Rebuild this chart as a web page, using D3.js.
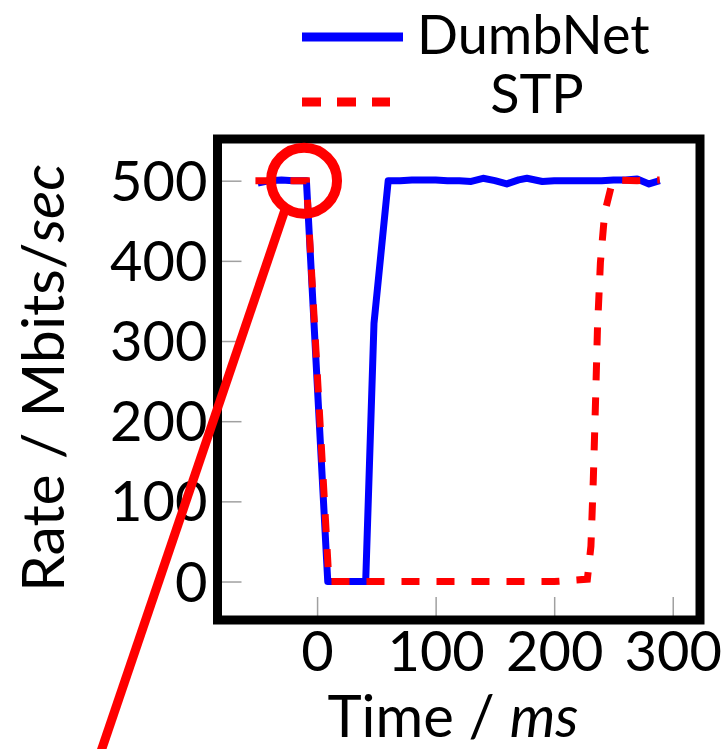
<!DOCTYPE html>
<html>
<head>
<meta charset="utf-8">
<script src="https://cdn.jsdelivr.net/npm/d3@7"></script>
<style>
  body { margin: 0; background: #fff; }
  text { font-family: Lato, "Open Sans", sans-serif; fill: #000; }
</style>
</head>
<body>
<svg width="724" height="749"></svg>
<script>
// time in ms, rate in Mbits/sec
const dumbTime = [-50, -40, -30, -20, -9, 9, 20, 30, 41, 48, 60, 70, 80, 90, 100, 110, 120, 130, 140, 150, 160, 170, 177, 190, 200, 210, 220, 230, 240, 250, 260, 270, 280, 289];
const dumbRate = [497, 500, 501, 500, 500, 0, 0, 0, 0, 322, 500, 500, 501, 501, 501, 500, 500, 499, 503, 500, 496, 501, 503, 499, 500, 500, 500, 500, 500, 501, 501, 502, 496, 500];

const stpTime = [-52, -30, -9, 10, 50, 100, 150, 200, 228, 231, 233, 235, 236.5, 239, 242.6, 248.3, 251, 270, 289];
const stpRate = [500, 500, 500, 0, 0, 0, 0, 0, 3, 44, 127, 231, 315, 398, 460, 494, 501, 500, 501];

const xTicks = [0, 100, 200, 300];
const yTicks = [0, 100, 200, 300, 400, 500];

const seriesNames = ["DumbNet", "STP"];
const seriesColors = ["#0000ff", "#ff0000"];

// red circle + pointer line (data units)
const circleAt = [-11, 500];
const pointerFrom = [-27, 464];
const pointerTo = [-183, -215];

const svg = d3.select("svg");

const x = d3.scaleLinear().domain([-84, 323]).range([217.5, 700]);
const y = d3.scaleLinear().domain([-48, 552]).range([620, 139]);

// axes (ticks point inward)
const yAxis = svg.append("g")
    .attr("transform", `translate(${x.range()[0]},0)`)
    .call(d3.axisLeft(y).tickValues(yTicks).tickSizeInner(-24).tickSizeOuter(0).tickPadding(10));
yAxis.select(".domain").remove();
yAxis.selectAll("line").attr("stroke", "#a0a0a0").attr("stroke-width", 1.5);
yAxis.selectAll("text").attr("font-size", 56).attr("dy", "0.35em");

const xAxis = svg.append("g")
    .attr("transform", `translate(0,${y.range()[0]})`)
    .call(d3.axisBottom(x).tickValues(xTicks).tickSizeInner(-23).tickSizeOuter(0).tickPadding(11));
xAxis.select(".domain").remove();
xAxis.selectAll("line").attr("stroke", "#a0a0a0").attr("stroke-width", 1.5);
xAxis.selectAll("text").attr("font-size", 56);

svg.selectAll("text").style("font-family", "Lato, sans-serif");

// lines
const line = d3.line().x(d => x(d[0])).y(d => y(d[1]));
const dumb = dumbTime.map((t, i) => [t, dumbRate[i]]);
const stp = stpTime.map((t, i) => [t, stpRate[i]]);

svg.append("path").datum(dumb)
    .attr("d", line)
    .attr("fill", "none")
    .attr("stroke", seriesColors[0])
    .attr("stroke-width", 7)
    .attr("stroke-linejoin", "round");

svg.append("path").datum(stp)
    .attr("d", line)
    .attr("fill", "none")
    .attr("stroke", seriesColors[1])
    .attr("stroke-width", 7)
    .attr("stroke-dasharray", "18,17");

// frame
svg.append("rect")
    .attr("x", x.range()[0]).attr("y", y.range()[1])
    .attr("width", x.range()[1] - x.range()[0])
    .attr("height", y.range()[0] - y.range()[1])
    .attr("fill", "none")
    .attr("stroke", "#000")
    .attr("stroke-width", 9);

// annotation
svg.append("circle")
    .attr("cx", x(circleAt[0])).attr("cy", y(circleAt[1]))
    .attr("r", 33)
    .attr("fill", "none")
    .attr("stroke", "#ff0000")
    .attr("stroke-width", 10);

svg.append("line")
    .attr("x1", x(pointerFrom[0])).attr("y1", y(pointerFrom[1]))
    .attr("x2", x(pointerTo[0])).attr("y2", y(pointerTo[1]))
    .attr("stroke", "#ff0000")
    .attr("stroke-width", 9);

// axis titles
const xt = svg.append("text")
    .attr("x", 453).attr("y", 737)
    .attr("text-anchor", "middle")
    .attr("font-size", 58);
xt.append("tspan").text("Time / ");
xt.append("tspan").attr("font-style", "italic").text("ms");

const yt = svg.append("text")
    .attr("transform", "translate(64,378) rotate(-90)")
    .attr("text-anchor", "middle")
    .attr("font-size", 59);
yt.append("tspan").text("Rate / Mbits/");
yt.append("tspan").attr("font-style", "italic").text("sec");

// legend
const legend = svg.append("g");
legend.append("line")
    .attr("x1", 302).attr("x2", 403).attr("y1", 37).attr("y2", 37)
    .attr("stroke", seriesColors[0]).attr("stroke-width", 9);
legend.append("line")
    .attr("x1", 302).attr("x2", 390).attr("y1", 102).attr("y2", 102)
    .attr("stroke", seriesColors[1]).attr("stroke-width", 9)
    .attr("stroke-dasharray", "19,16");
legend.append("text")
    .attr("x", 417).attr("y", 54)
    .attr("font-size", 54)
    .text(seriesNames[0]);
legend.append("text")
    .attr("x", 537).attr("y", 113)
    .attr("text-anchor", "middle")
    .attr("font-size", 54)
    .text(seriesNames[1]);
</script>
</body>
</html>
